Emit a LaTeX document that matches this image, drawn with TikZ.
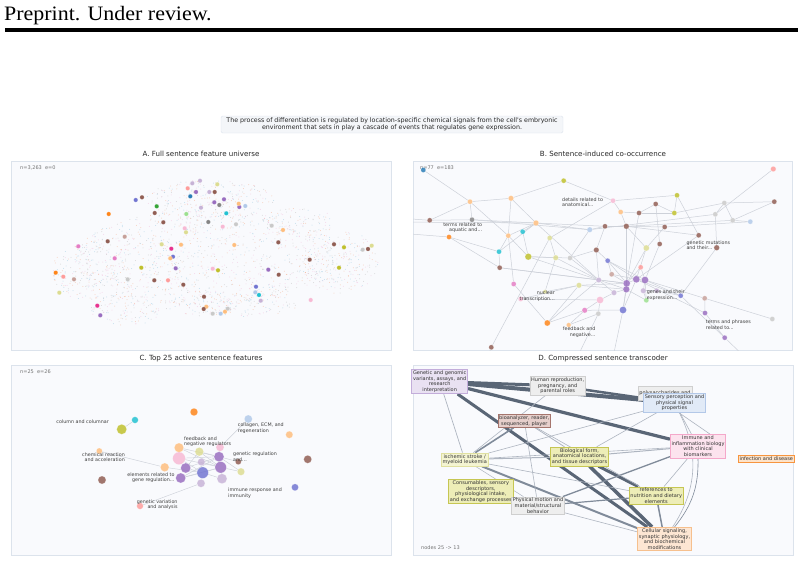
\documentclass[tikz,border=0pt]{standalone}
\usepackage{fontspec}
\setmainfont{Liberation Serif}
\newfontfamily\hdrfont[FakeStretch=1.07]{Liberation Serif}
\newfontfamily\plotfont{DejaVu Sans}
\usetikzlibrary{positioning,backgrounds}
\pgfdeclarelayer{panels}
\pgfdeclarelayer{links}
\pgfsetlayers{panels,links,main}

\definecolor{tblue}{HTML}{1F77B4}
\definecolor{tlblue}{HTML}{AEC7E8}
\definecolor{torange}{HTML}{FF7F0E}
\definecolor{tlorange}{HTML}{FFBB78}
\definecolor{tgreen}{HTML}{2CA02C}
\definecolor{tlgreen}{HTML}{98DF8A}
\definecolor{tsalmon}{HTML}{FF9896}
\definecolor{tpurple}{HTML}{9467BD}
\definecolor{tlpurple}{HTML}{C5B0D5}
\definecolor{tbrown}{HTML}{8C564B}
\definecolor{tlbrown}{HTML}{C49C94}
\definecolor{tmagenta}{HTML}{E377C2}
\definecolor{tdmag}{HTML}{E7298A}
\definecolor{tlpink}{HTML}{F7B6D2}
\definecolor{tgray}{HTML}{7F7F7F}
\definecolor{tlgray}{HTML}{C7C7C7}
\definecolor{tolive}{HTML}{BCBD22}
\definecolor{tlolive}{HTML}{DBDB8D}
\definecolor{tcyan}{HTML}{17BECF}
\definecolor{tslate}{HTML}{6B6ECF}
\definecolor{dotc0}{HTML}{F4A582}
\definecolor{dotc1}{HTML}{92C5DE}
\definecolor{dotc2}{HTML}{F1B6DA}
\definecolor{dotc3}{HTML}{B8B8B8}
\definecolor{framec}{HTML}{DCE3EC}
\definecolor{panelc}{HTML}{F9FAFD}
\definecolor{capc}{HTML}{F4F6F9}
\definecolor{edgec}{HTML}{CDD1D9}
\definecolor{dk}{HTML}{5A6676}
\definecolor{md}{HTML}{808B9A}
\definecolor{lt}{HTML}{AEB5C0}
\definecolor{lavd}{HTML}{C3ADDA}
\definecolor{lavf}{HTML}{E9E1F2}
\definecolor{gryd}{HTML}{CFCFCF}
\definecolor{gryf}{HTML}{EEEEEE}
\definecolor{blud}{HTML}{B3C8E8}
\definecolor{bluf}{HTML}{E1EAF7}
\definecolor{rosd}{HTML}{A5756D}
\definecolor{rosf}{HTML}{E6CFCB}
\definecolor{pnkd}{HTML}{F4A8CA}
\definecolor{pnkf}{HTML}{FCE3EE}
\definecolor{orgd}{HTML}{F7953F}
\definecolor{orgf}{HTML}{FDE3CA}
\definecolor{peed}{HTML}{F6C08E}
\definecolor{peef}{HTML}{FDE6D3}
\definecolor{khld}{HTML}{E0E0A0}
\definecolor{khlf}{HTML}{F4F4D2}
\definecolor{khkd}{HTML}{C6C653}
\definecolor{khkf}{HTML}{EDEDB7}

\begin{document}
\begin{tikzpicture}[
x=1pt, y=-1pt,
panel/.style={draw=framec, fill=panelc, line width=0.7pt},
ptitle/.style={font=\plotfont\fontsize{7.1}{8}\selectfont, text=black!85, inner sep=0pt},
stat/.style={font=\plotfont\fontsize{5}{6}\selectfont, text=black!55, anchor=west, inner sep=0pt},
lbl/.style={font=\plotfont\fontsize{4.8}{5.6}\selectfont, text=black!75, inner sep=0pt, align=left},
bub/.style={circle, inner sep=0pt, minimum size=2*#1pt, fill opacity=0.8, draw=white, draw opacity=0.5, line width=0.25pt},
tbox/.style 2 args={draw=#1, fill=#2, line width=0.6pt, inner sep=1.3pt, align=center, font=\plotfont\fontsize{5}{5.7}\selectfont, text=black!80},
bedge/.style={draw=edgec, line width=0.5pt},
cedge/.style={draw=edgec, line width=0.45pt}
]
\useasboundingbox (0,0) rectangle (804,562);

\node[anchor=base west, inner sep=0pt, font=\hdrfont\fontsize{20.5}{24}\selectfont] (hdr) at (4,20.7) {Preprint. Under review.};
\draw[line width=3.2pt] (5,30) -- (798,30);

\node[draw=framec, fill=capc, rounded corners=1.5pt, minimum width=342pt, minimum height=17pt, inner sep=1pt, align=center, font=\plotfont\fontsize{6.3}{7.2}\selectfont, text=black!85] (cap) at (392,124.5) {The process of differentiation is regulated by location-specific chemical signals from the cell's embryonic\\environment that sets in play a cascade of events that regulates gene expression.};

\begin{pgfonlayer}{panels}
\draw[panel] (11,161) rectangle (391,350);
\draw[panel] (413,161) rectangle (792,350);
\draw[panel] (11,365) rectangle (391,555);
\draw[panel] (413,365) rectangle (793,555);
\end{pgfonlayer}
\node[ptitle] (ta) at (201,154) {A. Full sentence feature universe};
\node[ptitle] (tb) at (603,154) {B. Sentence-induced co-occurrence};
\node[ptitle] (tc) at (201,358.5) {C. Top 25 active sentence features};
\node[ptitle] (td) at (603,358.5) {D. Compressed sentence transcoder};
\node[stat] (sa) at (20,168) {n=3,263\ \ e=0};
\node[stat] (sb) at (420,168) {n=77\ \ e=183};
\node[stat] (sc) at (20,372) {n=25\ \ e=26};
\node[stat] (sd) at (421,548) {nodes 25 -> 13};

\pgfmathsetseed{7}
\foreach \cx/\cy/\rx/\ry/\num in {205/258/130/48/1000, 210/200/65/20/260, 340/262/38/32/230, 85/272/33/28/170, 125/310/35/16/120, 230/305/70/12/170, 300/222/40/14/100}{
  \foreach \k in {1,...,\num}{
    \pgfmathsetmacro\ang{360*rnd}
    \pgfmathsetmacro\rad{sqrt(rnd)}
    \pgfmathtruncatemacro\cc{mod(\k,4)}
    \fill[dotc\cc, opacity=0.5] ({\cx+\rx*\rad*cos(\ang)},{\cy+\ry*\rad*sin(\ang)}) circle[radius=0.5];
  }
}
\foreach \x/\y/\c [count=\i] in {200/180.7/tlpurple, 192.3/183.3/tlpurple, 217.3/184.3/tlolive, 187.7/188.3/tsalmon, 196/192/tpurple, 209.3/192/tlpurple, 214.7/192/tbrown, 190.3/196.3/tblue, 142/197.3/tbrown, 135.7/200/tslate, 224/199.3/tpurple, 214.3/202.3/tpurple, 219.3/205/tgray, 239.3/207/tpurple, 245.3/206/tlblue, 238.7/203.7/tlorange, 201/207.7/tlpurple, 156.7/206.3/tgreen, 154.7/213/tbrown, 108.7/214/torange, 186.3/214/tlgreen, 226.3/213.3/tcyan, 163.3/222.3/tbrown, 208.3/222/tgray, 222.7/226.7/tlpink, 236/224.3/tlgray, 184.7/228.3/tlpink, 186/232.3/tlolive, 271.7/225.7/tlgray, 283/230/tlorange, 124.7/236.7/tlbrown, 107.7/241.3/tbrown, 278.3/242.3/tbrown, 78.3/246.3/tmagenta, 161.7/244.3/tlolive, 181/244.7/tlorange, 234.3/245/tlorange, 171.3/248.7/tdmag, 173/256.7/tslate, 170.3/258.3/tlorange, 114.7/258.3/tmagenta, 334/244.3/tbrown, 344/247.3/tolive, 371.7/245.7/tlolive, 368/249/tbrown, 362.7/249.7/tlgray, 309.7/259.7/tbrown, 141.3/267.7/tolive, 175.7/268.3/tpurple, 212.7/268.7/tlpink, 218/270.3/tolive, 268.3/269.7/tpurple, 339/267.7/tolive, 278.7/274.7/tbrown, 55.7/272.7/torange, 63.3/276.7/tsalmon, 74/279.3/tlbrown, 127.7/279.3/tlgray, 154.3/280.3/tbrown, 168/280.3/tsalmon, 183.3/284.7/tbrown, 256/286.7/tslate, 255.3/292.3/tlblue, 259/295/tcyan, 260.7/300.7/tlpurple, 310.7/300/tlpink, 59.3/292.7/tlolive, 204/296.7/tbrown, 97.3/305.7/tdmag, 206.3/306.7/tlorange, 203.7/309/tbrown, 227.7/308.7/tlgray, 225/311.7/tlorange, 212.7/313.7/tlgray, 220.7/313.7/tlblue, 100.3/315.3/tpurple}
  {\node[bub=2.2, fill=\c, fill opacity=0.95] (a\i) at (\x,\y) {};}

\foreach \x/\y/\c/\r [count=\i] in {423.3/170/tblue/2.5, 563.7/180.7/tolive/2.5, 470/201.7/tlorange/2.5, 511/198.3/tlorange/2.7, 613/200.7/tlpink/2.5, 677/195.3/tolive/2.5, 773.3/169/tsalmon/2.7, 774.3/201.7/tbrown/2.5, 724.3/203/tlgray/2.5, 620.7/212/tlorange/2.5, 639/213/tbrown/2.5, 655.7/204/tbrown/2.5, 674.3/213/tolive/2.5, 715.3/214.3/tlgray/2.5, 732.7/220.3/tlgray/2.5, 750.3/221.7/tlblue/2.5, 429.7/220.3/tbrown/2.5, 472/219.7/tgray/2.5, 536/223/tlorange/2.8, 589.7/229.7/tlblue/2.7, 605/226.3/tbrown/2.5, 626.3/226.3/tbrown/2.8, 664.7/227/tbrown/2.5, 449/237/torange/2.5, 508.3/235.7/tlorange/2.5, 522.7/231.7/tcyan/2.5, 549.7/238/tlolive/2.5, 698.7/235.3/tbrown/2.5, 716.7/247.7/tbrown/2.8, 499/251.7/tcyan/2.5, 528.3/256.7/tolive/3.3, 555.7/257.7/tlolive/2.7, 570/258/tlgray/2.5, 596.3/250/tbrown/2.7, 646.3/248/tlolive/3, 659.7/244/tbrown/2.5, 499.7/267.7/tbrown/2.5, 607.7/260.7/tslate/2.5, 640.7/267.3/tsalmon/2.5, 611.7/274.3/tlbrown/2.5, 513.7/284/tmagenta/2.5, 598.7/280/tlpurple/2.7, 626.7/283.3/tpurple/3.5, 636.3/279.3/tpurple/3.5, 645/280/tpurple/3.5, 626.3/289.3/tpurple/3.3, 614/292.7/tlpurple/2.7, 643.3/290.7/tlpurple/2.7, 656.7/290.7/tlpurple/2.5, 579/285.3/tlolive/2.7, 520.7/299/tlpink/2.5, 600/300/tlpink/3.5, 646.3/300.3/tlgreen/2.5, 680.7/295.7/tslate/2.5, 704.7/298.3/tlbrown/2.5, 584.7/310.3/tmagenta/2.7, 598.3/313.7/tlgray/2.5, 623/310/tslate/3.5, 705/313/tpurple/2.5, 772.3/319/tlgray/2.5, 547.3/323/torange/3, 568.7/325/tlorange/2.3, 724.7/337.7/tpurple/2.5, 491.3/347.3/tbrown/2.5, 545/291.7/tlolive/2}
  {\node[bub=\r, fill=\c] (b\i) at (\x,\y) {};}
\coordinate (bo1) at (398,218);
\coordinate (bo2) at (398,222);
\coordinate (bo3) at (398,233);
\coordinate (bo4) at (575,362);
\coordinate (bo5) at (612,362);
\coordinate (bo6) at (748,360);
\coordinate (bo7) at (486,362);
\begin{pgfonlayer}{links}
\begin{scope}
\clip (413,161) rectangle (792,350);
\foreach \u/\v in {1/3, 3/4, 4/2, 3/17, 3/25, 17/18, 18/20, 18/19, 24/37, 4/25, 25/41, 25/19, 25/31, 26/31, 26/19, 30/19, 30/25, 2/5, 20/33, 64/27, 27/32, 32/65, 27/5, 31/33, 33/34, 37/42, 41/61, 61/42, 61/56, 61/50, 51/50, 51/52, 62/57, 7/14, 8/15, 8/9, 9/14, 9/15, 15/16, 14/29, 29/54, 28/6, 28/44, 6/5, 6/13, 12/11, 12/13, 12/36, 10/11, 11/13, 21/22, 22/23, 22/10, 22/43, 22/46, 35/22, 35/44, 35/43, 38/44, 38/45, 38/43, 39/45, 39/43, 45/55, 55/60, 44/59, 54/63, 20/14, 22/15, 19/20, 19/21, 20/21, 21/34, 34/42, 34/38, 42/43, 42/46, 42/47, 43/44, 44/45, 45/48, 46/47, 46/58, 47/52, 48/49, 49/54, 50/43, 50/46, 52/56, 52/57, 53/45, 53/48, 56/58, 58/44, 58/43, 11/43, 10/5, 23/35, 36/45, 40/44, 40/43, 40/38, 33/42, 32/42, 65/50, 31/32, 4/19, 3/18, 24/30, 30/37, 22/28, 23/16, 13/9, 55/59, 59/63, 62/56, 44/54, 45/54, 46/53, 37/43, 31/42, 19/42}
  \draw[bedge] (b\u) -- (b\v);
\draw[bedge] (b17) -- (bo1);
\draw[bedge] (b19) -- (bo2);
\draw[bedge] (b24) -- (bo3);
\draw[bedge] (b57) -- (bo4);
\draw[bedge] (b58) -- (bo5);
\draw[bedge] (b63) -- (bo6);
\draw[bedge] (b64) -- (bo7);
\end{scope}
\end{pgfonlayer}
\node[lbl, anchor=west] (lb1) at (562,202.2) {details related to\\anatomical...};
\node[lbl, anchor=east, align=right] (lb2) at (482.3,227.5) {terms related to\\aquatic and...};
\node[lbl, anchor=west] (lb3) at (686.3,245.2) {genetic mutations\\and their...};
\node[lbl, anchor=east, align=right] (lb4) at (555,296.2) {nuclear\\transcription...};
\node[lbl, anchor=west] (lb5) at (646.7,295.2) {genes and their\\expression...};
\node[lbl, anchor=east, align=right] (lb6) at (595.7,332.2) {feedback and\\negative...};
\node[lbl, anchor=west] (lb7) at (705.7,324.9) {terms and phrases\\related to...};

\foreach \x/\y/\c/\r [count=\i] in {121.7/429.3/tolive/5, 135/420/tcyan/3.3, 194/412/torange/3.8, 248.3/419/tlblue/4, 289.3/434.7/tlorange/3.6, 307.7/459.3/tbrown/4, 295/487.3/tslate/3.5, 102/480/tbrown/4, 99.3/451/tlorange/3, 140/506/tsalmon/3.3, 179/447.7/tlorange/4.7, 179/458.3/tlpink/6.3, 199.3/451.7/tlolive/4.3, 220/447.3/tlpink/4, 201.3/462/tlpurple/3.7, 219/456.7/tpurple/5, 185.7/468/tpurple/5, 164.7/467.3/tlorange/4.3, 202.7/472.7/tslate/5.7, 220.7/467.3/tpurple/5.7, 241/471.7/tlolive/3.7, 180.7/478/tpurple/5, 222/478.7/tlpurple/5, 201/483.3/tlpurple/4, 238.3/461.7/tbrown/3}
  {\node[bub=\r, fill=\c] (c\i) at (\x,\y) {};}
\begin{pgfonlayer}{links}
\foreach \u/\v in {1/2, 9/18, 4/14, 10/24, 11/16, 11/20, 12/16, 12/20, 12/19, 13/16, 13/17, 13/20, 14/16, 15/20, 16/17, 16/21, 16/25, 17/19, 18/19, 19/20, 19/23, 20/21, 22/16, 22/19, 22/20, 24/19, 23/20}
  \draw[cedge] (c\u) -- (c\v);
\end{pgfonlayer}
\node[lbl, anchor=east, align=right] (lc1) at (109,421.7) {column and columnar};
\node[lbl, anchor=west] (lc2) at (237.7,428) {collagen, ECM, and\\regeneration};
\node[lbl, anchor=west] (lc3) at (184,441.7) {feedback and\\negative regulators};
\node[lbl, anchor=east, align=right] (lc4) at (125,457.3) {chemical reaction\\and acceleration};
\node[lbl, anchor=west] (lc5) at (233,456.7) {genetic regulation\\and...};
\node[lbl, anchor=east, align=right] (lc6) at (174.7,477.7) {elements related to\\gene regulation...};
\node[lbl, anchor=west] (lc7) at (228,493) {immune response and\\immunity};
\node[lbl, anchor=east, align=right] (lc8) at (177.7,504.7) {genetic variation\\and analysis};

\node[tbox={lavd}{lavf}] (gen) at (439.7,381.5) {Genetic and genomic\\variants, assays, and\\research\\interpretation};
\node[tbox={gryd}{gryf}] (hum) at (557.7,385.8) {Human reproduction,\\pregnancy, and\\parental roles};
\node[tbox={gryd}{gryf}, anchor=north, minimum height=14pt] (poly) at (665,386) {polysaccharides and};
\node[tbox={blud}{bluf}] (sens) at (674.5,402.7) {Sensory perception and\\physical signal\\properties};
\node[tbox={rosd}{rosf}] (bio) at (524.3,420.8) {bioanalyzer, reader,\\sequenced, player};
\node[tbox={pnkd}{pnkf}] (imm) at (698,446.2) {Immune and\\inflammation biology\\with clinical\\biomarkers};
\node[tbox={orgd}{orgf}] (inf) at (766.3,459) {infection and disease};
\node[tbox={khld}{khlf}] (isc) at (464.7,459.5) {ischemic stroke /\\myeloid leukemia};
\node[tbox={khkd}{khkf}] (form) at (579.5,456.5) {Biological form,\\anatomical locations,\\and tissue descriptors};
\node[tbox={khkd}{khkf}] (cons) at (480.8,491.5) {Consumables, sensory\\descriptors,\\physiological intake,\\and exchange processes};
\node[tbox={gryd}{gryf}] (phys) at (538,505.8) {Physical motion and\\material/structural\\behavior};
\node[tbox={khkd}{khkf}] (ref) at (656.2,495.8) {references to\\nutrition and dietary\\elements};
\node[tbox={peed}{peef}] (cell) at (664.5,539) {Cellular signaling,\\synaptic physiology,\\and biochemical\\modifications};
\begin{pgfonlayer}{links}
\foreach \u/\v/\w/\c in {gen/sens/4/dk, gen/hum/3/dk, gen/imm/3.2/dk, gen/cell/3/dk, form/cell/3.5/dk, form/ref/3/dk, hum/sens/2.5/dk, isc/cell/2/md, isc/bio/1.6/md, phys/imm/1.3/md, phys/ref/1.2/md, ref/cell/1.5/md, form/imm/1/lt, isc/form/1/lt, bio/form/0.8/lt, gen/isc/0.7/lt, isc/hum/0.6/lt, isc/sens/0.6/lt, isc/imm/0.6/lt, isc/ref/0.6/lt, bio/phys/0.6/lt, form/sens/0.6/lt, phys/cell/0.6/lt, imm/ref/0.6/lt, sens/imm/0.6/lt, bio/ref/0.6/lt, isc/phys/0.5/lt}
  \draw[line width=\w pt, draw=\c] (\u) -- (\v);
\draw[line width=0.6pt, draw=lt] (sens) to[bend left=30] (cell);
\draw[line width=0.6pt, draw=md] (imm) to[bend left=20] (cell);
\draw[line width=0.6pt, draw=lt] ([xshift=4pt]sens.south) -- ([xshift=12pt]imm.north);
\end{pgfonlayer}
\end{tikzpicture}
\end{document}
